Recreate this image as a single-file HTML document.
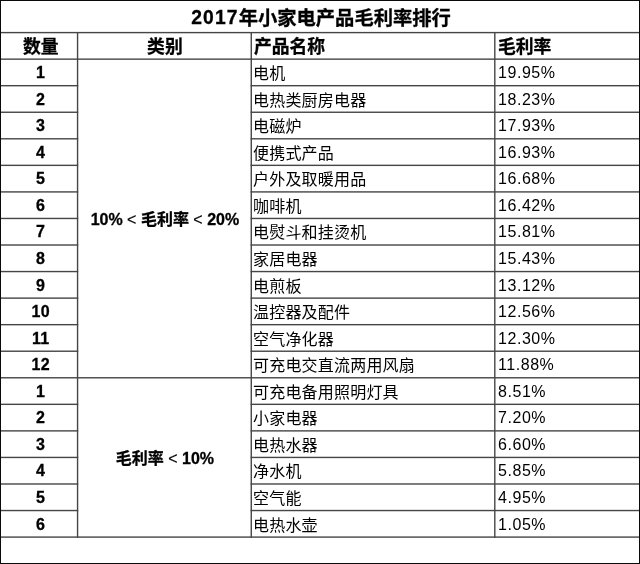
<!DOCTYPE html>
<html><head><meta charset="utf-8">
<style>
html,body{margin:0;padding:0;background:#fff;}
body{width:640px;height:564px;position:relative;overflow:hidden;
 font-family:"Liberation Sans","Noto Sans CJK SC",sans-serif;color:#000;}
svg{position:absolute;left:0;top:0;}
.c{position:absolute;display:flex;align-items:center;white-space:nowrap;will-change:transform;}
.cc{justify-content:center;}
.l{padding-left:2px;box-sizing:border-box;}
.b{font-weight:bold;}
.n{position:relative;top:1px;}
.p{letter-spacing:0.55px;padding-left:1px;top:0.5px;}
.bn{letter-spacing:0.4px;}
.nm{position:relative;top:-0.5px;}
.pn{letter-spacing:0.2px;}
.b,.t,.hd{-webkit-text-stroke:0.3px currentColor;}
.lt{font-weight:normal;-webkit-text-stroke:0.2px currentColor;font-size:16px;}
.tn{letter-spacing:1.15px;position:relative;top:-1.2px;}
.up{position:relative;top:-0.6px;}
.t{font-size:19.3px;font-weight:bold;}
.hd{font-size:17.8px;font-weight:bold;}
.d{font-size:16px;}
</style></head><body>

<svg width="640" height="564" viewBox="0 0 640 564">
<rect x="76.86" y="32.2" width="1.4" height="505.59" fill="#464646"/>
<rect x="250.57" y="32.2" width="1.4" height="505.59" fill="#464646"/>
<rect x="494.1" y="32.2" width="1.4" height="505.59" fill="#464646"/>
<rect x="1" y="31.9" width="638" height="1.4" fill="#464646"/>
<rect x="1" y="58.44" width="638" height="1.4" fill="#464646"/>
<rect x="1" y="84.99" width="77.26" height="1.4" fill="#464646"/>
<rect x="250.57" y="84.99" width="388.43" height="1.4" fill="#464646"/>
<rect x="1" y="111.55" width="77.26" height="1.4" fill="#464646"/>
<rect x="250.57" y="111.55" width="388.43" height="1.4" fill="#464646"/>
<rect x="1" y="138.1" width="77.26" height="1.4" fill="#464646"/>
<rect x="250.57" y="138.1" width="388.43" height="1.4" fill="#464646"/>
<rect x="1" y="164.65" width="77.26" height="1.4" fill="#464646"/>
<rect x="250.57" y="164.65" width="388.43" height="1.4" fill="#464646"/>
<rect x="1" y="191.21" width="77.26" height="1.4" fill="#464646"/>
<rect x="250.57" y="191.21" width="388.43" height="1.4" fill="#464646"/>
<rect x="1" y="217.76" width="77.26" height="1.4" fill="#464646"/>
<rect x="250.57" y="217.76" width="388.43" height="1.4" fill="#464646"/>
<rect x="1" y="244.31" width="77.26" height="1.4" fill="#464646"/>
<rect x="250.57" y="244.31" width="388.43" height="1.4" fill="#464646"/>
<rect x="1" y="270.86" width="77.26" height="1.4" fill="#464646"/>
<rect x="250.57" y="270.86" width="388.43" height="1.4" fill="#464646"/>
<rect x="1" y="297.42" width="77.26" height="1.4" fill="#464646"/>
<rect x="250.57" y="297.42" width="388.43" height="1.4" fill="#464646"/>
<rect x="1" y="323.97" width="77.26" height="1.4" fill="#464646"/>
<rect x="250.57" y="323.97" width="388.43" height="1.4" fill="#464646"/>
<rect x="1" y="350.52" width="77.26" height="1.4" fill="#464646"/>
<rect x="250.57" y="350.52" width="388.43" height="1.4" fill="#464646"/>
<rect x="1" y="377.08" width="638" height="1.4" fill="#464646"/>
<rect x="1" y="403.63" width="77.26" height="1.4" fill="#464646"/>
<rect x="250.57" y="403.63" width="388.43" height="1.4" fill="#464646"/>
<rect x="1" y="430.18" width="77.26" height="1.4" fill="#464646"/>
<rect x="250.57" y="430.18" width="388.43" height="1.4" fill="#464646"/>
<rect x="1" y="456.74" width="77.26" height="1.4" fill="#464646"/>
<rect x="250.57" y="456.74" width="388.43" height="1.4" fill="#464646"/>
<rect x="1" y="483.29" width="77.26" height="1.4" fill="#464646"/>
<rect x="250.57" y="483.29" width="388.43" height="1.4" fill="#464646"/>
<rect x="1" y="509.84" width="77.26" height="1.4" fill="#464646"/>
<rect x="250.57" y="509.84" width="388.43" height="1.4" fill="#464646"/>
<rect x="1" y="536.39" width="638" height="1.4" fill="#464646"/>
<rect x="0" y="0" width="640" height="1" fill="#0a0a0a"/>
<rect x="0" y="563" width="640" height="1" fill="#0a0a0a"/>
<rect x="0" y="0" width="1" height="564" fill="#0a0a0a"/>
<rect x="639" y="0" width="1" height="564" fill="#0a0a0a"/>
</svg>
<div class="c cc t" style="left:1.4px;width:640px;top:1.2px;height:31.9px;"><span><span class="tn">2017</span>年小家电产品毛利率排行</span></div>
<div class="c cc hd" style="left:1.5px;width:77.5px;top:32.4px;height:26.74px;"><span><span class="up">数量</span></span></div>
<div class="c cc hd" style="left:77.5px;width:173.8px;top:32.4px;height:26.74px;"><span><span class="up">类别</span></span></div>
<div class="c l hd" style="left:252.3px;width:242.5px;top:32.4px;height:26.74px;"><span><span class="up">产品名称</span></span></div>
<div class="c l hd" style="left:496.3px;width:142.7px;top:32.4px;height:26.74px;"><span><span class="up">毛利率</span></span></div>
<div class="c cc d b" style="left:1.5px;width:77.5px;top:59.14px;height:26.55px;"><span><span class="n bn">1</span></span></div>
<div class="c l d" style="left:251.3px;width:243.5px;top:59.14px;height:26.55px;"><span><span class="nm pn">电机</span></span></div>
<div class="c l d" style="left:494.8px;width:144.2px;top:59.14px;height:26.55px;"><span><span class="n p">19.95%</span></span></div>
<div class="c cc d b" style="left:1.5px;width:77.5px;top:85.69px;height:26.55px;"><span><span class="n bn">2</span></span></div>
<div class="c l d" style="left:251.3px;width:243.5px;top:85.69px;height:26.55px;"><span><span class="nm pn">电热类厨房电器</span></span></div>
<div class="c l d" style="left:494.8px;width:144.2px;top:85.69px;height:26.55px;"><span><span class="n p">18.23%</span></span></div>
<div class="c cc d b" style="left:1.5px;width:77.5px;top:112.25px;height:26.55px;"><span><span class="n bn">3</span></span></div>
<div class="c l d" style="left:251.3px;width:243.5px;top:112.25px;height:26.55px;"><span><span class="nm pn">电磁炉</span></span></div>
<div class="c l d" style="left:494.8px;width:144.2px;top:112.25px;height:26.55px;"><span><span class="n p">17.93%</span></span></div>
<div class="c cc d b" style="left:1.5px;width:77.5px;top:138.8px;height:26.55px;"><span><span class="n bn">4</span></span></div>
<div class="c l d" style="left:251.3px;width:243.5px;top:138.8px;height:26.55px;"><span><span class="nm pn">便携式产品</span></span></div>
<div class="c l d" style="left:494.8px;width:144.2px;top:138.8px;height:26.55px;"><span><span class="n p">16.93%</span></span></div>
<div class="c cc d b" style="left:1.5px;width:77.5px;top:165.35px;height:26.55px;"><span><span class="n bn">5</span></span></div>
<div class="c l d" style="left:251.3px;width:243.5px;top:165.35px;height:26.55px;"><span><span class="nm pn">户外及取暖用品</span></span></div>
<div class="c l d" style="left:494.8px;width:144.2px;top:165.35px;height:26.55px;"><span><span class="n p">16.68%</span></span></div>
<div class="c cc d b" style="left:1.5px;width:77.5px;top:191.91px;height:26.55px;"><span><span class="n bn">6</span></span></div>
<div class="c l d" style="left:251.3px;width:243.5px;top:191.91px;height:26.55px;"><span><span class="nm pn">咖啡机</span></span></div>
<div class="c l d" style="left:494.8px;width:144.2px;top:191.91px;height:26.55px;"><span><span class="n p">16.42%</span></span></div>
<div class="c cc d b" style="left:1.5px;width:77.5px;top:218.46px;height:26.55px;"><span><span class="n bn">7</span></span></div>
<div class="c l d" style="left:251.3px;width:243.5px;top:218.46px;height:26.55px;"><span><span class="nm pn">电熨斗和挂烫机</span></span></div>
<div class="c l d" style="left:494.8px;width:144.2px;top:218.46px;height:26.55px;"><span><span class="n p">15.81%</span></span></div>
<div class="c cc d b" style="left:1.5px;width:77.5px;top:245.01px;height:26.55px;"><span><span class="n bn">8</span></span></div>
<div class="c l d" style="left:251.3px;width:243.5px;top:245.01px;height:26.55px;"><span><span class="nm pn">家居电器</span></span></div>
<div class="c l d" style="left:494.8px;width:144.2px;top:245.01px;height:26.55px;"><span><span class="n p">15.43%</span></span></div>
<div class="c cc d b" style="left:1.5px;width:77.5px;top:271.56px;height:26.55px;"><span><span class="n bn">9</span></span></div>
<div class="c l d" style="left:251.3px;width:243.5px;top:271.56px;height:26.55px;"><span><span class="nm pn">电煎板</span></span></div>
<div class="c l d" style="left:494.8px;width:144.2px;top:271.56px;height:26.55px;"><span><span class="n p">13.12%</span></span></div>
<div class="c cc d b" style="left:1.5px;width:77.5px;top:298.12px;height:26.55px;"><span><span class="n bn">10</span></span></div>
<div class="c l d" style="left:251.3px;width:243.5px;top:298.12px;height:26.55px;"><span><span class="nm pn">温控器及配件</span></span></div>
<div class="c l d" style="left:494.8px;width:144.2px;top:298.12px;height:26.55px;"><span><span class="n p">12.56%</span></span></div>
<div class="c cc d b" style="left:1.5px;width:77.5px;top:324.67px;height:26.55px;"><span><span class="n bn">11</span></span></div>
<div class="c l d" style="left:251.3px;width:243.5px;top:324.67px;height:26.55px;"><span><span class="nm pn">空气净化器</span></span></div>
<div class="c l d" style="left:494.8px;width:144.2px;top:324.67px;height:26.55px;"><span><span class="n p">12.30%</span></span></div>
<div class="c cc d b" style="left:1.5px;width:77.5px;top:351.22px;height:26.55px;"><span><span class="n bn">12</span></span></div>
<div class="c l d" style="left:251.3px;width:243.5px;top:351.22px;height:26.55px;"><span><span class="nm pn">可充电交直流两用风扇</span></span></div>
<div class="c l d" style="left:494.8px;width:144.2px;top:351.22px;height:26.55px;"><span><span class="n p">11.88%</span></span></div>
<div class="c cc d b" style="left:1.5px;width:77.5px;top:377.78px;height:26.55px;"><span><span class="n bn">1</span></span></div>
<div class="c l d" style="left:251.3px;width:243.5px;top:377.78px;height:26.55px;"><span><span class="nm pn">可充电备用照明灯具</span></span></div>
<div class="c l d" style="left:494.8px;width:144.2px;top:377.78px;height:26.55px;"><span><span class="n p">8.51%</span></span></div>
<div class="c cc d b" style="left:1.5px;width:77.5px;top:404.33px;height:26.55px;"><span><span class="n bn">2</span></span></div>
<div class="c l d" style="left:251.3px;width:243.5px;top:404.33px;height:26.55px;"><span><span class="nm pn">小家电器</span></span></div>
<div class="c l d" style="left:494.8px;width:144.2px;top:404.33px;height:26.55px;"><span><span class="n p">7.20%</span></span></div>
<div class="c cc d b" style="left:1.5px;width:77.5px;top:430.88px;height:26.55px;"><span><span class="n bn">3</span></span></div>
<div class="c l d" style="left:251.3px;width:243.5px;top:430.88px;height:26.55px;"><span><span class="nm pn">电热水器</span></span></div>
<div class="c l d" style="left:494.8px;width:144.2px;top:430.88px;height:26.55px;"><span><span class="n p">6.60%</span></span></div>
<div class="c cc d b" style="left:1.5px;width:77.5px;top:457.44px;height:26.55px;"><span><span class="n bn">4</span></span></div>
<div class="c l d" style="left:251.3px;width:243.5px;top:457.44px;height:26.55px;"><span><span class="nm pn">净水机</span></span></div>
<div class="c l d" style="left:494.8px;width:144.2px;top:457.44px;height:26.55px;"><span><span class="n p">5.85%</span></span></div>
<div class="c cc d b" style="left:1.5px;width:77.5px;top:483.99px;height:26.55px;"><span><span class="n bn">5</span></span></div>
<div class="c l d" style="left:251.3px;width:243.5px;top:483.99px;height:26.55px;"><span><span class="nm pn">空气能</span></span></div>
<div class="c l d" style="left:494.8px;width:144.2px;top:483.99px;height:26.55px;"><span><span class="n p">4.95%</span></span></div>
<div class="c cc d b" style="left:1.5px;width:77.5px;top:510.54px;height:26.55px;"><span><span class="n bn">6</span></span></div>
<div class="c l d" style="left:251.3px;width:243.5px;top:510.54px;height:26.55px;"><span><span class="nm pn">电热水壶</span></span></div>
<div class="c l d" style="left:494.8px;width:144.2px;top:510.54px;height:26.55px;"><span><span class="n p">1.05%</span></span></div>
<div class="c cc d b" style="left:77.5px;width:173.8px;top:59.14px;height:318.64px;"><span><span class="nm">10% <span class="lt">&lt;</span> 毛利率 <span class="lt">&lt;</span> 20%</span></span></div>
<div class="c cc d b" style="left:77.5px;width:173.8px;top:377.78px;height:159.32px;"><span><span class="nm">毛利率 <span class="lt">&lt;</span> 10%</span></span></div>
</body></html>
